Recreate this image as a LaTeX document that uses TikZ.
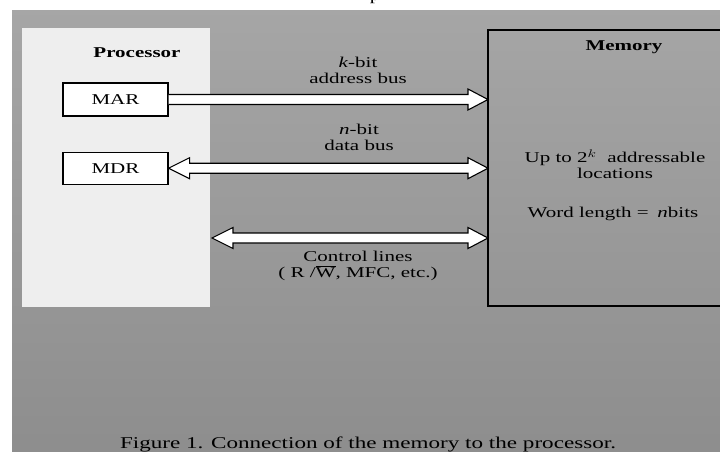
\documentclass[tikz,border=0pt]{standalone}
\usepackage{fontspec}
\setmainfont{Liberation Serif}
\usepackage{graphicx}
\usepackage{tikz}
\usetikzlibrary{positioning, calc}
\definecolor{bgtop}{gray}{0.65}
\definecolor{bgbot}{gray}{0.555}
\definecolor{procgray}{gray}{0.935}
\newcommand{\bodyfont}{\fontsize{15}{16}\selectfont}
\newcommand{\capfont}{\fontsize{16.5}{18}\selectfont}
\newcommand{\wtxt}[1]{\scalebox{1.4}[1]{#1}}
\tikzstyle{procbox} = [rectangle, fill=procgray, minimum width=188pt, minimum height=279pt]
\tikzstyle{regbox} = [rectangle, draw=black, line width=1.2pt, fill=white, minimum width=105pt, minimum height=33pt, font=\bodyfont]
\tikzstyle{membox} = [rectangle, minimum width=232pt, minimum height=276pt, outer sep=0pt]
\tikzstyle{lbl} = [align=center, font=\bodyfont]
\tikzstyle{bus} = [draw=black, fill=white, line width=1.1pt, line join=miter]
% hollow bus arrow, head at #2 only
\newcommand{\busone}[2]{\draw[bus] ($(#1)+(0,-5)$) -- ($(#2)+(-20,-5)$) -- ($(#2)+(-20,-10.5)$) -- (#2) -- ($(#2)+(-20,10.5)$) -- ($(#2)+(-20,5)$) -- ($(#1)+(0,5)$);}
% hollow bus arrow, heads at both ends
\newcommand{\bustwo}[2]{\draw[bus] (#1) -- ($(#1)+(21,-10.5)$) -- ($(#1)+(21,-5)$) -- ($(#2)+(-20,-5)$) -- ($(#2)+(-20,-10.5)$) -- (#2) -- ($(#2)+(-20,10.5)$) -- ($(#2)+(-20,5)$) -- ($(#1)+(21,5)$) -- ($(#1)+(21,10.5)$) -- cycle;}

\begin{document}
\begin{tikzpicture}[x=1pt, y=-1pt]
    \useasboundingbox (0,0) rectangle (720,451);
    \fill[white] (0,0) rectangle (720,451);
    \shade[top color=bgtop, bottom color=bgbot] (12,10) rectangle (720,451);
    \begin{scope}
        \clip (0,0) rectangle (720,10);
        \node (frag) [anchor=base, font=\bodyfont, inner sep=0pt] at (375,0.7) {\wtxt{p}};
    \end{scope}

    % processor side
    \node (proc) [procbox] at (116,167.5) {};
    \node (ptitle) [font=\bodyfont\bfseries] at (137,53) {\wtxt{Processor}};
    \node (mar) [regbox] at (115.5,99.5) {\wtxt{MAR}};
    \node (mdr) [regbox, below=35pt of mar, minimum height=32pt] {\wtxt{MDR}};

    % memory side
    \node (mem) [membox] at (604,168) {};
    \draw [line width=1.4pt] (mem.north east) -- (mem.north west) -- (mem.south west) -- (mem.south east);
    \node (mtitle) [font=\bodyfont\bfseries] at (624,47) {\wtxt{Memory}};
    \node (loc) [lbl] at (615,164) {\wtxt{Up to 2$^{k}$ \ addressable}\\\wtxt{locations}};
    \node (wlen) [lbl] at (613,214) {\wtxt{Word length = \,\textit{n}bits}};

    % buses
    \coordinate (ain) at (mar.east -| mem.west);
    \coordinate (din) at (mdr.east -| mem.west);
    \coordinate (cout) at (212,238);
    \coordinate (cin) at (cout -| mem.west);
    \busone{mar.east}{ain}
    \bustwo{mdr.east}{din}
    \bustwo{cout}{cin}
    \node (abus) [lbl] at (358,70) {\wtxt{\textit{k}-bit}\\\wtxt{address bus}};
    \node (dbus) [lbl] at (359,137) {\wtxt{\textit{n}-bit}\\\wtxt{data bus}};
    \node (ctl) [lbl] at (358,266) {\wtxt{Control lines}\\\wtxt{( R /$\overline{\hbox{W}}$, MFC, etc.)}};

    \node (cap) [anchor=base, font=\capfont] at (368,448) {\wtxt{Figure 1. Connection of the memory to the processor.}};
\end{tikzpicture}
\end{document}
